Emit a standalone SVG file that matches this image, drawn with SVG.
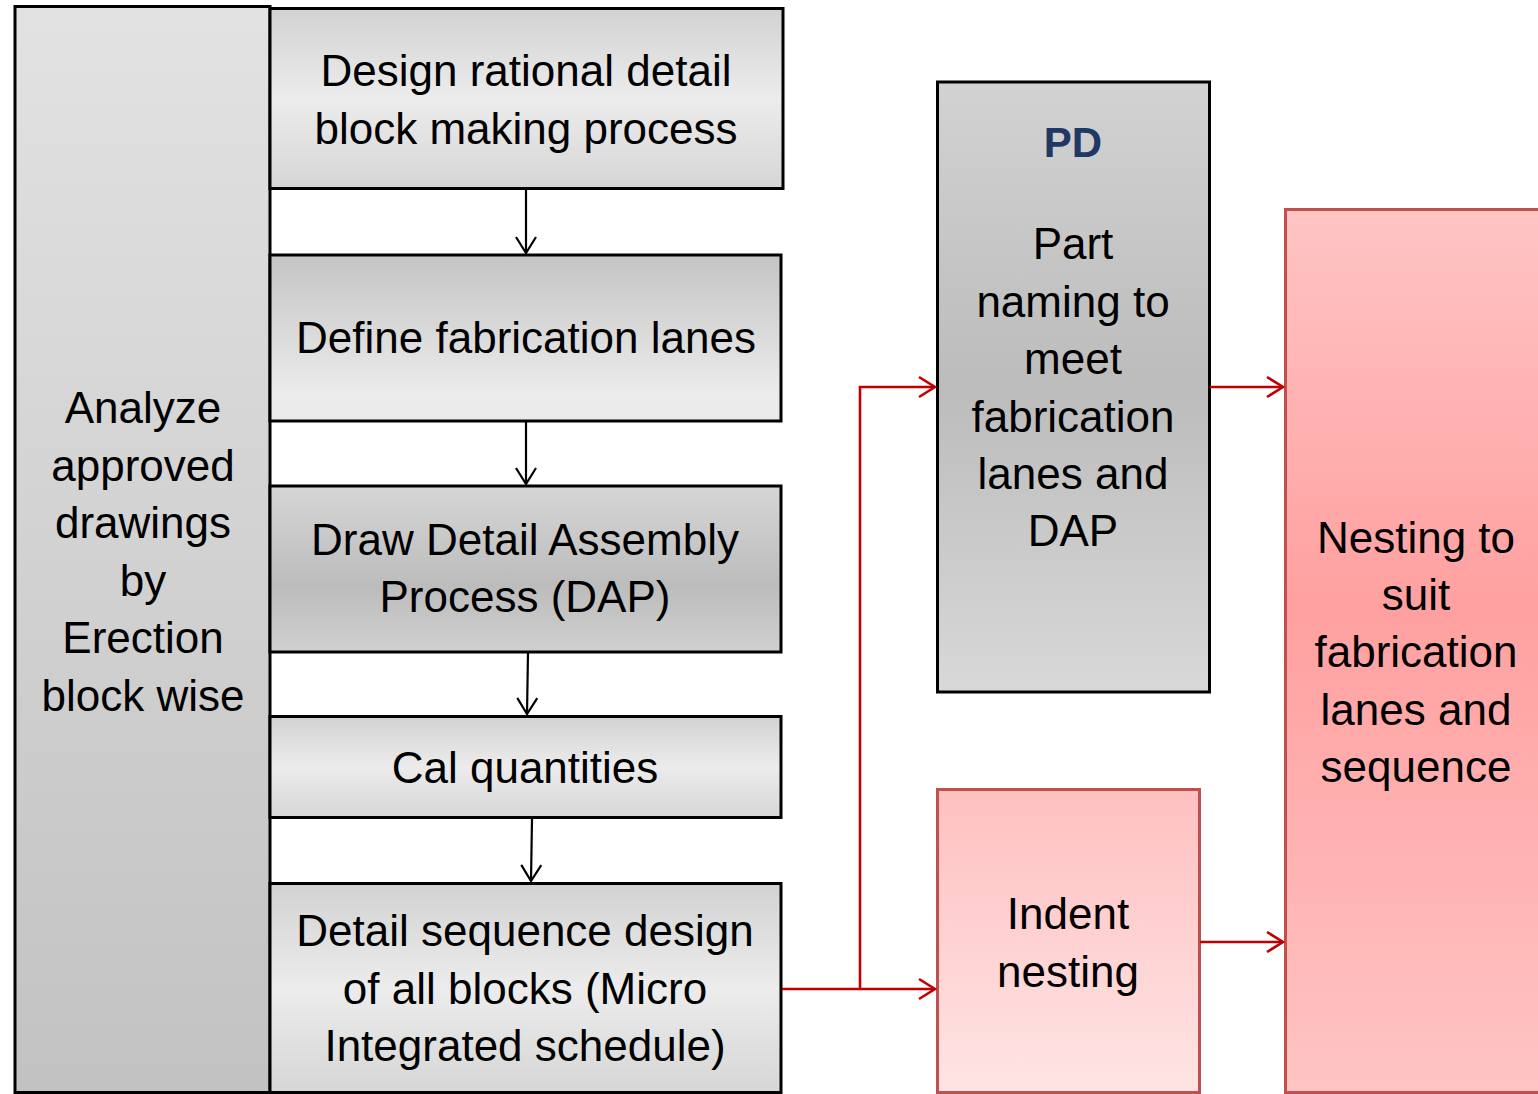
<svg xmlns="http://www.w3.org/2000/svg" width="1538" height="1094" viewBox="0 0 1538 1094">
  <defs>
    <!-- grey fills -->
    <linearGradient id="gLeft" x1="0" y1="0" x2="0" y2="1">
      <stop offset="0" stop-color="#e2e2e2"/>
      <stop offset="1" stop-color="#c2c2c2"/>
    </linearGradient>
    <linearGradient id="gMidLight" x1="0" y1="0" x2="0" y2="1">
      <stop offset="0" stop-color="#d2d2d2"/>
      <stop offset="0.5" stop-color="#ececec"/>
      <stop offset="1" stop-color="#d6d6d6"/>
    </linearGradient>
    <linearGradient id="gDarkToLight" x1="0" y1="0" x2="0" y2="1">
      <stop offset="0" stop-color="#c4c4c4"/>
      <stop offset="0.85" stop-color="#ececec"/>
      <stop offset="1" stop-color="#eaeaea"/>
    </linearGradient>
    <linearGradient id="gMidDark" x1="0" y1="0" x2="0" y2="1">
      <stop offset="0" stop-color="#d6d6d6"/>
      <stop offset="0.6" stop-color="#bcbcbc"/>
      <stop offset="1" stop-color="#d0d0d0"/>
    </linearGradient>
    <linearGradient id="gPD" x1="0" y1="0" x2="0" y2="1">
      <stop offset="0" stop-color="#d2d2d2"/>
      <stop offset="0.5" stop-color="#bcbcbc"/>
      <stop offset="1" stop-color="#d8d8d8"/>
    </linearGradient>
    <!-- pink fills -->
    <linearGradient id="gIndent" x1="0" y1="0" x2="0" y2="1">
      <stop offset="0" stop-color="#ffc0c0"/>
      <stop offset="1" stop-color="#ffe4e4"/>
    </linearGradient>
    <linearGradient id="gNest" x1="0" y1="0" x2="0" y2="1">
      <stop offset="0" stop-color="#ffc4c4"/>
      <stop offset="0.45" stop-color="#ffa0a0"/>
      <stop offset="1" stop-color="#ffc4c4"/>
    </linearGradient>
    <!-- open V arrowheads, drawn pointing along +x and rotated to the line -->
    <marker id="arrowBlack" viewBox="0 0 24 24" refX="22" refY="12" markerWidth="24" markerHeight="24" markerUnits="userSpaceOnUse" orient="auto">
      <path d="M6 2 L22 12 L6 22" fill="none" stroke="#000" stroke-width="2.2"/>
    </marker>
    <marker id="arrowRed" viewBox="0 0 24 24" refX="22" refY="12" markerWidth="24" markerHeight="24" markerUnits="userSpaceOnUse" orient="auto">
      <path d="M6 2 L22 12 L6 22" fill="none" stroke="#c00000" stroke-width="2.6"/>
    </marker>
    <style>
      .grey { stroke: #000; stroke-width: 3; }
      .pink { stroke: #c0504d; stroke-width: 3; }
      .txt { font-family: "Liberation Sans", Arial, sans-serif; font-size: 44px; fill: #000; text-anchor: middle; }
      .pd { font-family: "Liberation Sans", Arial, sans-serif; font-size: 42px; font-weight: bold; fill: #1f3864; text-anchor: middle; }
      .blk { stroke: #000; stroke-width: 2.2; fill: none; }
      .red { stroke: #c00000; stroke-width: 2.6; fill: none; }
    </style>
  </defs>

  <rect width="1538" height="1094" fill="#fff"/>

  <g id="analyze">
    <rect class="grey" x="15" y="6.5" width="255" height="1086" fill="url(#gLeft)"/>
    <text class="txt" x="143" y="423">Analyze</text>
    <text class="txt" x="143" y="481">approved</text>
    <text class="txt" x="143" y="538">drawings</text>
    <text class="txt" x="143" y="596">by</text>
    <text class="txt" x="143" y="653">Erection</text>
    <text class="txt" x="143" y="711">block wise</text>
  </g>

  <g id="design">
    <rect class="grey" x="270" y="8.5" width="513" height="180" fill="url(#gMidLight)"/>
    <text class="txt" x="526" y="86">Design rational detail</text>
    <text class="txt" x="526" y="144">block making process</text>
  </g>

  <g id="lanes">
    <rect class="grey" x="270" y="255" width="511" height="166" fill="url(#gDarkToLight)"/>
    <text class="txt" x="526" y="353">Define fabrication lanes</text>
  </g>

  <g id="dap">
    <rect class="grey" x="270" y="486" width="511" height="166" fill="url(#gMidDark)"/>
    <text class="txt" x="525" y="555">Draw Detail Assembly</text>
    <text class="txt" x="525" y="612">Process (DAP)</text>
  </g>

  <g id="quantities">
    <rect class="grey" x="270" y="716.5" width="511" height="101" fill="url(#gMidLight)"/>
    <text class="txt" x="525" y="783">Cal quantities</text>
  </g>

  <g id="sequence">
    <rect class="grey" x="270" y="883.5" width="511" height="209" fill="url(#gMidLight)"/>
    <text class="txt" x="525" y="946">Detail sequence design</text>
    <text class="txt" x="525" y="1004">of all blocks (Micro</text>
    <text class="txt" x="525" y="1061">Integrated schedule)</text>
  </g>

  <g id="pd">
    <rect class="grey" x="937.5" y="82" width="272" height="610" fill="url(#gPD)"/>
    <text class="pd" x="1073" y="157">PD</text>
    <text class="txt" x="1073" y="259">Part</text>
    <text class="txt" x="1073" y="317">naming to</text>
    <text class="txt" x="1073" y="374">meet</text>
    <text class="txt" x="1073" y="432">fabrication</text>
    <text class="txt" x="1073" y="489">lanes and</text>
    <text class="txt" x="1073" y="546">DAP</text>
  </g>

  <g id="indent">
    <rect class="pink" x="937.5" y="789.5" width="262" height="303" fill="url(#gIndent)"/>
    <text class="txt" x="1068" y="929">Indent</text>
    <text class="txt" x="1068" y="987">nesting</text>
  </g>

  <g id="nesting">
    <rect class="pink" x="1285.5" y="209.5" width="260" height="883" fill="url(#gNest)"/>
    <text class="txt" x="1416" y="553">Nesting to</text>
    <text class="txt" x="1416" y="610">suit</text>
    <text class="txt" x="1416" y="667">fabrication</text>
    <text class="txt" x="1416" y="725">lanes and</text>
    <text class="txt" x="1416" y="782">sequence</text>
  </g>

  <g id="connectors">
    <line class="blk" x1="526" y1="190" x2="526" y2="253" marker-end="url(#arrowBlack)"/>
    <line class="blk" x1="526" y1="422" x2="526" y2="484" marker-end="url(#arrowBlack)"/>
    <line class="blk" x1="528" y1="653" x2="527" y2="714" marker-end="url(#arrowBlack)"/>
    <line class="blk" x1="532" y1="819" x2="531" y2="881" marker-end="url(#arrowBlack)"/>
    <polyline class="red" points="782,989 935,989" marker-end="url(#arrowRed)"/>
    <polyline class="red" points="860,989 860,387 935,387" marker-end="url(#arrowRed)"/>
    <polyline class="red" points="1210,387 1283,387" marker-end="url(#arrowRed)"/>
    <polyline class="red" points="1200,942 1283,942" marker-end="url(#arrowRed)"/>
  </g>
</svg>
